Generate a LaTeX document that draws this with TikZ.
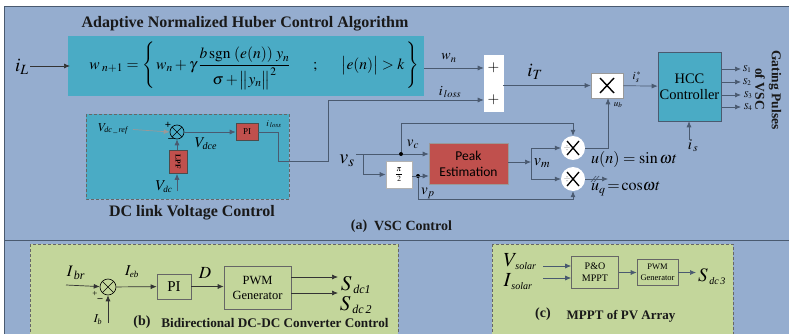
\documentclass[tikz,border=0pt]{standalone}
\usepackage{amsmath}
\usepackage{mathptmx}
\usepackage{fontspec}
\setmainfont{Liberation Serif}
\newfontfamily\calfont{Carlito}
\usetikzlibrary{arrows.meta}
\definecolor{panelblue}{HTML}{95ADCF}
\definecolor{tealbox}{HTML}{4AABC5}
\definecolor{redbox}{HTML}{C0504D}
\definecolor{greenbox}{HTML}{C3D69B}
\definecolor{wireblue}{HTML}{4A5A70}
\newcommand{\lowsub}[3]{$#1_{\mbox{\fontsize{#2}{#2}\selectfont\itshape #3}}$}
\tikzset{
    wire/.style={draw=wireblue,line width=.7pt},
    flow/.style={wire,-{Latex[length=6pt,width=5pt]}},
    block/.style={draw=#1,line width=.6pt,minimum width=0pt,minimum height=0pt,inner sep=0pt,align=center},
    whitebox/.style={block=white,fill=white},
    redblock/.style={block=black!70,fill=redbox},
    greenblock/.style={block=black!60,fill=greenbox},
    mult/.style={circle,fill=white,minimum size=24pt,inner sep=0pt},
    sumring/.style={circle,draw=black,line width=.6pt,minimum size=#1,inner sep=0pt,path picture={
        \draw[line width=.6pt] (path picture bounding box.north west) -- (path picture bounding box.south east)
            (path picture bounding box.south west) -- (path picture bounding box.north east);}},
    head/.style={font=\bfseries\fontsize{#1}{#1}\selectfont,text=black!90},
    dot/.style={circle,fill=black,minimum size=4pt,inner sep=0pt},
    lab/.style={font=\fontsize{#1}{#1}\selectfont,inner sep=0pt},
    dashbox/.style={draw=black!60,densely dashed,line width=.6pt},
}
\begin{document}
\begin{tikzpicture}[x=1pt,y=-1pt]
    \useasboundingbox (0,0) rectangle (789,334);
    % panels
    \fill[panelblue] (4,6) rectangle (789,334);
    \draw[wireblue] (4,334) -- (4,6) -- (789,6);
    \draw[wireblue] (4,240) -- (789,240);
    \fill[tealbox] (68,36) rectangle (424,96);
    \draw[dashbox,fill=tealbox] (86,114) rectangle (289,199);
    \draw[dashbox,fill=greenbox] (30,244) rectangle (398,334);
    \draw[dashbox,fill=greenbox] (492,244) rectangle (733,334);

    % huber law
    \node[head=16] (title) at (245,24) {Adaptive Normalized Huber Control Algorithm};
    \node[lab=19] (iL) at (22,67) {$i_L$};
    \coordinate (iLout) at (30,66);
    \coordinate (lawin) at (70,66);
    \draw[flow,draw=black!80] (iLout) -- (lawin);
    \node[lab=15.5] (law) at (254,66) {$w_{\;n+1}=\left\{\vphantom{\dfrac{b}{\bigl\|y_n\bigr\|^2}}\, w_n+\gamma\,\dfrac{b\,\mathrm{sgn}\;(e(n))\;y_n}{\sigma+\bigl\|y_n\bigr\|^2}\quad\;\;;\quad\;\;\bigl|e(n)\bigr|>k\,\right\}$};

    % adder and multiplier
    \node[whitebox,minimum width=19pt,minimum height=56pt] (adder) at (493.5,83) {};
    \foreach \y/\k in {68/1,100/2}
        \node[lab=15] (plus\k) at (493.5,\y) {$+$};
    \coordinate (lawout) at (424,68);
    \draw[flow] (lawout) -- (lawout -| adder.west);
    \node[lab=14] (wn) at (449,58) {$w_n$};
    \node[lab=14] (iloss) at (450,92) {$i_{\,loss}$};
    \node[lab=19] (iT) at (535,72) {$i_T$};
    \node[whitebox,draw=black!40,minimum width=32pt,minimum height=25pt] (times) at (607,85.5) {};
    \draw[line width=1.4pt] (600,78) -- (614,93) (600,93) -- (614,78);
    \draw[flow] (adder.east |- times) -- (times);
    \node[block=wireblue,fill=tealbox,minimum width=63pt,minimum height=69pt,font=\fontsize{14.5}{16}\selectfont] (hcc) at (689.5,86.5) {HCC\\Controller};
    \draw[flow] (times) -- (hcc);
    \node[lab=11] (istar) at (637,77) {$i_s^{\,*}$};
    \node[lab=9] (ub) at (618,105) {$u_b$};

    % gate outputs
    \foreach \y/\k/\xx in {69/1/747,82/2/747,95/3/748,107/4/748} {
        \coordinate (g\k) at (721,\y);
        \node[lab=9] (s\k) at (\xx,\y) {$S_{\k}$};
        \draw[flow] (g\k) -- ++(20,0);
    }
    \node[head=13.5,rotate=-90] (gating) at (775,90) {Gating Pulses};
    \node[head=13.5,rotate=-90] (ofvsc) at (760,89) {of VSC};
    \node[lab=15] (is) at (693,146) {$i_{\,s}$};
    \coordinate (isin) at (689,140);
    \draw[flow] (isin) -- (isin |- hcc.south);

    % dc link
    \node[sumring=14pt] (dcsum) at (177,132) {};
    \node[redblock,minimum width=22pt,minimum height=17pt,font=\fontsize{9}{9}\selectfont] (dcpi) at (247,132) {PI};
    \node[redblock,minimum width=18pt,minimum height=23pt,font=\bfseries\fontsize{7.5}{8}\selectfont] (lpf) at (178,162) {\rotatebox{-90}{LPF}};
    \node[lab=12] (vref) at (113,129) {\lowsub{V}{8}{dc\,\_\,ref}};
    \node[lab=15] (vdce) at (206,144) {\lowsub{V}{10}{dce}};
    \node[lab=15] (vdc) at (164,187) {\lowsub{V}{9}{dc}};
    \node[lab=9] (ilossin) at (274,124) {$i_{\,loss}$};
    \node[lab=10,font=\bfseries\fontsize{11}{11}\selectfont] (dcplus) at (168,125) {+};
    \node[lab=10,font=\bfseries\fontsize{11}{11}\selectfont] (dcminus) at (171,140) {--};
    \coordinate (vrefout) at (133,129.5);
    \coordinate (vdcin) at (177,191);
    \coordinate (lossturn) at (278,161);
    \coordinate (lossup) at (328,161);
    \draw[flow,draw=black!40] (vrefout) -- (dcsum.west);
    \draw[flow] (dcsum) -- (dcpi);
    \draw[flow] (lpf.north -| dcsum) -- (dcsum);
    \draw[flow] (vdcin) -- (vdcin |- lpf.south);
    \draw[flow] (dcpi.east) -- (lossturn |- dcpi) -- (lossturn) -- (lossup) |- (plus2 -| adder.west);
    \node[head=16] (dctitle) at (192,213) {DC link Voltage Control};

    % reference generation
    \node[lab=20] (vs) at (347,161) {$v_s$};
    \coordinate (vsout) at (356,154);
    \coordinate (vsdrop) at (363,154);
    \node[block=black!40,fill=redbox,minimum width=79pt,minimum height=41pt,font=\calfont\fontsize{13.5}{16}\selectfont] (peak) at (468.5,163.5) {Peak\\Estimation};
    \node[whitebox,draw=black!30,minimum width=26pt,minimum height=27pt] (shift) at (399,174.5) {};
    \node[lab=8] (shiftlab) at (399,174.5) {$\dfrac{\pi}{2}$};
    \node[dot] (vcdot) at (401,154) {};
    \node[dot] (vpdot) at (418,176) {};
    \node[mult] (mult1) at (573,148) {};
    \node[mult] (mult2) at (573,179) {};
    \foreach \m in {mult1,mult2} {
        \node[lab=9,text=black!50] at ([xshift=-6pt]\m.center) {$\div$};
        \draw[line width=1.3pt] (\m.center) ++(-6,-7) -- ++(12,14) (\m.center) ++(-6,7) -- ++(12,-14);
    }
    \node[lab=15] (vc) at (413,144) {$v_c$};
    \node[lab=15] (vp) at (428,193) {$v_p$};
    \node[lab=16] (vm) at (542,163) {$v_m$};
    \node[lab=16,anchor=west] (un) at (591,159) {$u(n)=\sin\omega t$};
    \node[lab=16,anchor=west] (uq) at (591,189) {$u_q\!=\!\cos\!\omega t$};
    \coordinate (vmbus) at (531,162);
    \coordinate (ubturn) at (608,148);
    \coordinate (uqout) at (608,179);
    \draw[wire] (vsout) -- (vsdrop);
    \draw[flow] (vsdrop) -- (vcdot) -- (vcdot -| peak.west);
    \draw[flow] (vsdrop) |- (shift.west);
    \draw[flow] (shift.east |- vpdot) -- (vpdot -| peak.west);
    \draw[flow] (vcdot) |- (mult1 |- 0,123) -- (mult1);
    \draw[flow] (vpdot) |- (mult2 |- 0,199) -- (mult2);
    \draw[flow] (peak.east |- vmbus) -- (vmbus);
    \draw[flow] (vmbus) |- (mult1);
    \draw[flow] (vmbus) |- (mult2);
    \draw[flow] (mult1) -- (ubturn) -- (ubturn |- times.south);
    \draw[flow] (mult2) -- (uqout);
    \draw[wire] (591,182) -- ++(5,-6) (594,182) -- ++(5,-6);
    \node[head=14] (vsctag) at (359,226) {(a)};
    \node[head=14] (vsctitle) at (413,226) {VSC Control};

    % bidirectional converter
    \node[sumring=16pt] (bsum) at (108,287) {};
    \node[greenblock,minimum width=34pt,minimum height=25pt,font=\fontsize{15}{15}\selectfont] (bpi) at (174,286.5) {PI};
    \node[greenblock,minimum width=67pt,minimum height=43pt,font=\fontsize{12.5}{15}\selectfont] (pwmb) at (257.5,287.5) {PWM\\Generator};
    \node[lab=16] (ibr) at (76,273) {\lowsub{I}{12}{\,br}};
    \node[lab=15] (ieb) at (132,272) {\lowsub{I}{9}{eb}};
    \node[lab=17] (dlab) at (205,273) {$D$};
    \node[lab=12] (ib) at (98,320) {\lowsub{I}{8}{b}};
    \node[lab=9] (bplus) at (95,294) {+};
    \node[lab=10,font=\bfseries\fontsize{10}{10}\selectfont] (bminus) at (100,300) {--};
    \coordinate (ibrin) at (66,285);
    \coordinate (ibin) at (108,323);
    \node[lab=21] (sdc1) at (356,285) {\lowsub{S}{12}{\,dc1}};
    \node[lab=21] (sdc2) at (356,305) {\lowsub{S}{12}{\,dc\,2}};
    \draw[flow,draw=black!80] (ibrin) -- (bsum);
    \draw[flow,draw=black!80] (ibin) -- (bsum);
    \draw[flow,draw=black!80] (bsum) -- (bpi);
    \draw[flow,draw=black!80] (bpi) -- (bpi -| pwmb.west);
    \draw[flow,draw=black!80] (pwmb.east |- 0,277) -- (338,277);
    \draw[flow,draw=black!80] (pwmb.east |- 0,293) -- (338,293);
    \node[head=14] (btag) at (142,322) {(b)};
    \node[head=13.2] (btitle) at (275,323) {Bidirectional DC-DC Converter Control};

    % mppt
    \node[greenblock,minimum width=47pt,minimum height=32pt,font=\fontsize{10}{12}\selectfont] (mppt) at (595,272.5) {P\&O\\MPPT};
    \node[greenblock,minimum width=41pt,minimum height=26pt,font=\fontsize{8.5}{10.5}\selectfont] (pwmc) at (657.5,272.5) {PWM\\Generator};
    \node[lab=20] (vsolar) at (520,262) {\lowsub{V}{10}{\,solar}};
    \node[lab=20] (isolar) at (518,282) {\lowsub{I}{10}{\,solar}};
    \node[lab=19] (sdcc) at (712,277) {\lowsub{S}{10}{\,dc\,3}};
    \coordinate (vsolout) at (543,266);
    \coordinate (isolout) at (543,278);
    \draw[flow] (vsolout) -- (vsolout -| mppt.west);
    \draw[flow] (isolout) -- (isolout -| mppt.west);
    \draw[flow] (mppt) -- (pwmc);
    \draw[flow] (pwmc) -- (696,272.5);
    \node[head=14] (ctag) at (543,314) {(c)};
    \node[head=13] (ctitle) at (621,316) {MPPT of PV Array};
\end{tikzpicture}
\end{document}
